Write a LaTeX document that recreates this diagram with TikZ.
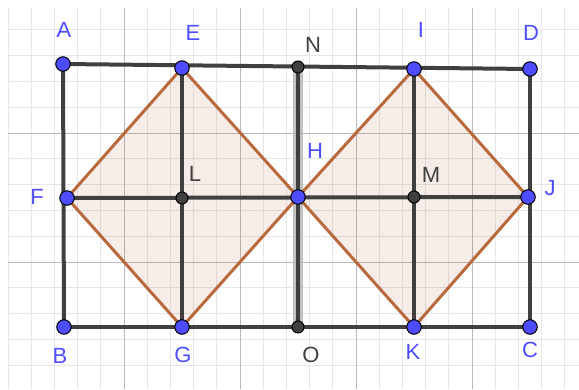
\documentclass[tikz,border=0pt]{standalone}
\usepackage{fontspec}
\setmainfont{Liberation Sans}
\usetikzlibrary{backgrounds}
\definecolor{ptblue}{RGB}{77,77,255}
\definecolor{darkline}{RGB}{64,64,64}
\definecolor{sqbrown}{RGB}{184,106,62}
\definecolor{minorgray}{RGB}{230,230,230}
\definecolor{majorgray}{RGB}{185,185,185}
\begin{document}
\begin{tikzpicture}[x=1pt, y=-1pt,
	bluept/.style={circle, inner sep=0pt, minimum size=14.5pt, draw=black, line width=1pt, fill=ptblue},
	darkpt/.style={circle, inner sep=0pt, minimum size=12pt, draw=black, line width=1pt, fill=darkline},
	bluelbl/.style={text=ptblue, font=\fontsize{22}{24}\selectfont, inner sep=0pt},
	darklbl/.style={text=darkline, font=\fontsize{22}{24}\selectfont, inner sep=0pt},
	segment/.style={draw=darkline, line width=4pt},
	halo/.style={draw=black!30, line width=10pt, opacity=0.8},
	sqside/.style={draw=sqbrown, line width=3pt, line join=round},
	sqfill/.style={fill=sqbrown, fill opacity=0.12},
	minorline/.style={draw=minorgray, line width=0.8pt},
	majorline/.style={draw=majorgray, line width=0.9pt}]
	
	\useasboundingbox (0,0) rectangle (579,389);
	
	\node (A) [bluept] at (63,64) {};
	\node (E) [bluept] at (182,68) {};
	\node (N) [darkpt] at (298,67) {};
	\node (I) [bluept] at (414,69) {};
	\node (D) [bluept] at (530,69) {};
	\node (F) [bluept] at (67,198) {};
	\node (L) [darkpt] at (182,198) {};
	\node (H) [bluept] at (298,197) {};
	\node (M) [darkpt] at (414,197) {};
	\node (J) [bluept] at (528,197) {};
	\node (B) [bluept] at (64,327) {};
	\node (G) [bluept] at (182,327) {};
	\node (O) [darkpt] at (298,327) {};
	\node (K) [bluept] at (414,327) {};
	\node (C) [bluept] at (530,327) {};
	
	\node (labA) [bluelbl] at (64,30) {A};
	\node (labE) [bluelbl] at (193,33) {E};
	\node (labN) [darklbl] at (313,45) {N};
	\node (labI) [bluelbl] at (421,30) {I};
	\node (labD) [bluelbl] at (531,33) {D};
	\node (labF) [bluelbl] at (37,197) {F};
	\node (labL) [darklbl] at (195,174) {L};
	\node (labH) [bluelbl] at (315,151) {H};
	\node (labM) [darklbl] at (431,175) {M};
	\node (labJ) [bluelbl] at (550,188) {J};
	\node (labB) [bluelbl] at (60,356) {B};
	\node (labG) [bluelbl] at (183,355) {G};
	\node (labO) [darklbl] at (311,355) {O};
	\node (labK) [bluelbl] at (413,352) {K};
	\node (labC) [bluelbl] at (530,350) {C};
	
	\begin{scope}[on background layer]
		\begin{scope}
			\clip (8,8) rectangle (579,389);
			\foreach \i in {0,...,25}
				\draw [minorline] ({8+23.2*\i},8) -- ({8+23.2*\i},389);
			\foreach \j in {0,...,15}
				\draw [minorline] (8,{4+25.8*\j}) -- (579,{4+25.8*\j});
			\foreach \i in {1,...,4}
				\draw [majorline] ({8+116*\i},8) -- ({8+116*\i},389);
			\foreach \j in {1,2}
				\draw [majorline] (8,{4+129*\j}) -- (579,{4+129*\j});
		\end{scope}
		
		\fill [sqfill] (E.center) -- (H.center) -- (G.center) -- (F.center) -- cycle;
		\fill [sqfill] (I.center) -- (J.center) -- (K.center) -- (H.center) -- cycle;
		
		\draw [halo] (N.center) -- (O.center);
		\draw [segment] (A.center) -- (D.center);
		\draw [segment] (B.center) -- (C.center);
		\draw [segment] (A.center) -- (B.center);
		\draw [segment] (D.center) -- (C.center);
		\draw [segment] (F.center) -- (J.center);
		\draw [segment] (E.center) -- (G.center);
		\draw [segment] (N.center) -- (O.center);
		\draw [segment] (I.center) -- (K.center);
		
		\draw [sqside] (E.center) -- (H.center) -- (G.center) -- (F.center) -- cycle;
		\draw [sqside] (I.center) -- (J.center) -- (K.center) -- (H.center) -- cycle;
	\end{scope}
\end{tikzpicture}
\end{document}
